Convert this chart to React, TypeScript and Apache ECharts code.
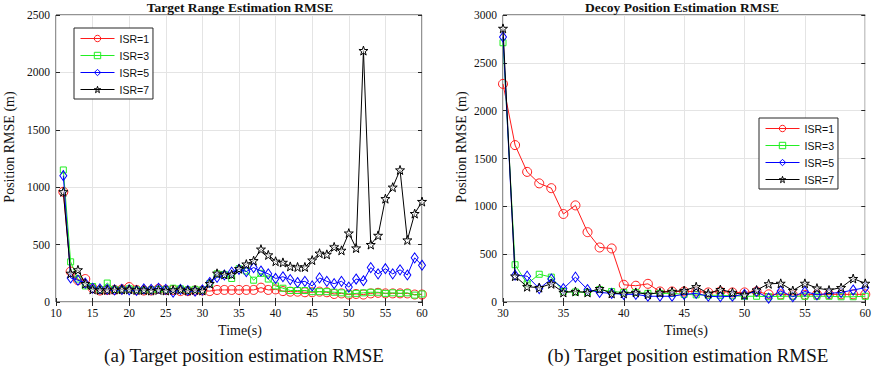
import React, { useEffect, useRef } from "react";
import * as echarts from "echarts";

// Time axes (seconds)
const timeA = [11, 12, 13, 14, 15, 16, 17, 18, 19, 20, 21, 22, 23, 24, 25, 26, 27, 28, 29, 30,
  31, 32, 33, 34, 35, 36, 37, 38, 39, 40, 41, 42, 43, 44, 45, 46, 47, 48, 49, 50,
  51, 52, 53, 54, 55, 56, 57, 58, 59, 60];
const timeB = [30, 31, 32, 33, 34, 35, 36, 37, 38, 39, 40, 41, 42, 43, 44, 45, 46, 47, 48, 49, 50,
  51, 52, 53, 54, 55, 56, 57, 58, 59, 60];

// Target range estimation RMSE (m)
const targetIsr1 = [960, 265, 190, 200, 120, 100, 105, 105, 110, 130, 105, 100, 100, 115, 105, 105, 95, 95, 100, 100,
  95, 105, 105, 105, 105, 105, 105, 125, 105, 110, 95, 90, 90, 85, 85, 90, 85, 70, 75, 65,
  70, 65, 75, 80, 75, 75, 75, 75, 65, 65];
const targetIsr3 = [1150, 350, 200, 140, 135, 105, 165, 110, 105, 115, 105, 100, 105, 110, 110, 120, 115, 105, 110, 105,
  160, 245, 240, 205, 290, 270, 190, 250, 200, 140, 120, 100, 100, 100, 90, 90, 90, 85, 80, 70,
  75, 80, 85, 85, 75, 80, 75, 80, 60, 70];
const targetIsr5 = [1100, 210, 190, 165, 120, 115, 110, 105, 110, 105, 100, 115, 110, 120, 110, 85, 110, 100, 95, 105,
  170, 215, 235, 260, 285, 265, 300, 270, 245, 205, 220, 195, 170, 180, 140, 210, 180, 160, 180, 130,
  200, 185, 300, 245, 290, 245, 280, 235, 385, 320];
const targetIsr7 = [960, 250, 280, 160, 110, 105, 105, 110, 110, 110, 105, 105, 100, 105, 100, 105, 110, 100, 105, 100,
  160, 250, 240, 240, 290, 330, 360, 460, 410, 355, 345, 310, 305, 305, 365, 425, 415, 480, 450, 600,
  470, 2190, 500, 580, 900, 1000, 1150, 540, 770, 875];

// Decoy position estimation RMSE (m)
const decoyIsr1 = [2280, 1640, 1360, 1240, 1190, 920, 1010, 730, 570, 560, 180, 170, 190, 110, 110, 110, 110, 100, 110, 100,
  100, 110, 80, 80, 75, 75, 80, 80, 80, 80, 80];
const decoyIsr3 = [2710, 390, 190, 290, 260, 110, 105, 100, 130, 110, 100, 100, 90, 90, 90, 80, 75, 70, 70, 65,
  60, 60, 55, 60, 60, 60, 60, 60, 55, 55, 60];
const decoyIsr5 = [2770, 280, 270, 140, 240, 140, 260, 130, 100, 90, 80, 80, 60, 60, 60, 80, 90, 60, 55, 60,
  80, 110, 40, 115, 55, 110, 75, 90, 100, 125, 150];
const decoyIsr7 = [2860, 270, 160, 150, 190, 100, 110, 100, 140, 90, 90, 100, 80, 100, 110, 120, 160, 90, 130, 100,
  75, 125, 190, 195, 120, 195, 145, 125, 150, 245, 195];

const seriesNames = ["ISR=1", "ISR=3", "ISR=5", "ISR=7"];
const seriesColors = ["#ff1a1a", "#22ee22", "#0000ff", "#000000"];

const STAR =
  "path://M50,0 L61.8,35.1 L98.1,34.5 L69.1,56.7 L79.4,91.5 L50,70.3 L20.6,91.5 L30.9,56.7 L1.9,34.5 L38.2,35.1 Z";
const markers: any[] = ["circle", "rect", "diamond", STAR];
const markerSizes: any[] = [9, 6, [7, 10], 9];

const SERIF = "Liberation Serif";
const SANS = "Liberation Sans";
const AXIS_COLOR = "#262626";

function pairs(t: number[], v: number[]) {
  return t.map((x, i) => [x, v[i]]);
}

function makeSeries(gridIdx: number, t: number[], values: number[][]) {
  return values.map((v, i) => ({
    type: "line",
    name: seriesNames[i],
    xAxisIndex: gridIdx,
    yAxisIndex: gridIdx,
    data: pairs(t, v),
    symbol: markers[i],
    symbolSize: markerSizes[i],
    showSymbol: true,
    lineStyle: { color: seriesColors[i], width: 1 },
    itemStyle: {
      color: i === 3 ? "rgba(255,255,255,0.6)" : "rgba(0,0,0,0)",
      borderColor: seriesColors[i],
      borderWidth: 1,
    },
    emphasis: { disabled: true },
    z: 2 + i,
  }));
}

const tickLabel = { color: "#111", fontFamily: SERIF, fontSize: 11.5 };

function mainX(gridIndex: number, min: number, max: number) {
  return {
    type: "value",
    gridIndex,
    min,
    max,
    interval: 5,
    axisLine: { show: false },
    axisTick: { show: true, inside: true, length: 4, lineStyle: { color: AXIS_COLOR } },
    axisLabel: { ...tickLabel, margin: 5, formatter: (v: number) => String(v) },
    splitLine: { show: true, lineStyle: { color: "#e4e4e4", width: 1 } },
  };
}

function mainY(gridIndex: number, max: number) {
  return {
    type: "value",
    gridIndex,
    min: 0,
    max,
    interval: 500,
    axisLine: { show: false },
    axisTick: { show: true, inside: true, length: 4, lineStyle: { color: AXIS_COLOR } },
    axisLabel: { ...tickLabel, margin: 6, formatter: (v: number) => String(v) },
    splitLine: { show: true, lineStyle: { color: "#e4e4e4", width: 1 } },
  };
}

// Mirror axes for tick marks along the top and right edges of each box
function mirrorX(gridIndex: number, min: number, max: number) {
  return {
    type: "value",
    gridIndex,
    position: "top",
    min,
    max,
    interval: 5,
    axisLine: { show: false },
    axisTick: { show: true, inside: true, length: 4, lineStyle: { color: AXIS_COLOR } },
    axisLabel: { show: false },
    splitLine: { show: false },
  };
}

function mirrorY(gridIndex: number, max: number) {
  return {
    type: "value",
    gridIndex,
    position: "right",
    min: 0,
    max,
    interval: 500,
    axisLine: { show: false },
    axisTick: { show: true, inside: true, length: 4, lineStyle: { color: AXIS_COLOR } },
    axisLabel: { show: false },
    splitLine: { show: false },
  };
}

function legendAt(left: number, top: number) {
  return {
    show: true,
    orient: "vertical",
    left,
    top,
    data: seriesNames,
    itemWidth: 34,
    itemHeight: 8,
    itemGap: 6,
    padding: [5, 4, 4, 6],
    backgroundColor: "#fff",
    borderColor: AXIS_COLOR,
    borderWidth: 1,
    borderRadius: 0,
    selectedMode: false,
    itemStyle: { color: "rgba(0,0,0,0)", borderWidth: 1 },
    lineStyle: { width: 1 },
    textStyle: { fontFamily: SANS, fontSize: 10.5, color: "#111" },
  };
}

function label(text: string, x: number, y: number, size: number, opts: any = {}) {
  return {
    type: "text",
    x,
    y,
    rotation: opts.rotation || 0,
    silent: true,
    style: {
      text,
      fill: "#111",
      fontFamily: SERIF,
      fontSize: size,
      fontWeight: opts.bold ? "bold" : "normal",
      align: "center",
      verticalAlign: "middle",
    },
  };
}

export default function App() {
  const ref = useRef<HTMLDivElement>(null);

  useEffect(() => {
    if (!ref.current) return;
    const chart = echarts.init(ref.current, undefined, { renderer: "svg" });
    chart.setOption({
      animation: false,
      backgroundColor: "#fff",
      grid: [
        { left: 56, top: 15, width: 366, height: 287, show: true, borderColor: AXIS_COLOR, borderWidth: 1, backgroundColor: "#fff" },
        { left: 503, top: 15, width: 367, height: 287, show: true, borderColor: AXIS_COLOR, borderWidth: 1, backgroundColor: "#fff" },
      ],
      xAxis: [mainX(0, 10, 60), mainX(1, 30, 60), mirrorX(0, 10, 60), mirrorX(1, 30, 60)],
      yAxis: [mainY(0, 2500), mainY(1, 3000), mirrorY(0, 2500), mirrorY(1, 3000)],
      legend: [legendAt(74, 28), legendAt(759, 118)],
      series: [
        ...makeSeries(0, timeA, [targetIsr1, targetIsr3, targetIsr5, targetIsr7]),
        ...makeSeries(1, timeB, [decoyIsr1, decoyIsr3, decoyIsr5, decoyIsr7]),
      ],
      graphic: [
        label("Target Range Estimation RMSE", 240, 7, 13.5, { bold: true }),
        label("Decoy Position Estimation RMSE", 682, 7, 13.5, { bold: true }),
        label("Position RMSE (m)", 9, 147, 14, { rotation: Math.PI / 2 }),
        label("Position RMSE (m)", 461, 147, 14, { rotation: Math.PI / 2 }),
        label("Time(s)", 240, 330, 14),
        label("Time(s)", 686, 330, 14),
        label("(a) Target position estimation RMSE", 244, 355, 19),
        label("(b) Target position estimation RMSE", 688, 355, 19),
      ],
    });
    return () => chart.dispose();
  }, []);

  return (
    <div
      ref={ref}
      style={{ position: "fixed", left: 0, top: 0, width: 874, height: 368, background: "#fff" }}
    />
  );
}
